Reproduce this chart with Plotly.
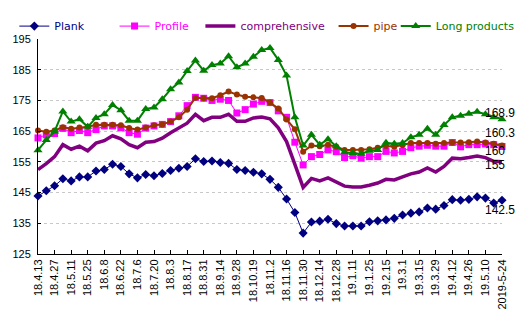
import plotly.graph_objects as go

dates = ["18.4.13", "18.4.20", "18.4.27", "18.5.4", "18.5.11", "18.5.18", "18.5.25", "18.6.1",
         "18.6.8", "18.6.15", "18.6.22", "18.6.29", "18.7.6", "18.7.13", "18.7.20", "18.7.27",
         "18.8.3", "18.8.10", "18.8.17", "18.8.24", "18.8.31", "18.9.7", "18.9.14", "18.9.21",
         "18.9.28", "18.10.12", "18.10.19", "18.10.26", "18.11.2", "18.11.9", "18.11.16", "18.11.23",
         "18.11.30", "18.12.7", "18.12.14", "18.12.21", "18.12.28", "19.1.4", "19.1.11", "19.1.18",
         "19.1.25", "19.2.1", "19.2.15", "19.2.22", "19.3.1", "19.3.8", "19.3.15", "19.3.22",
         "19.3.29", "19.4.5", "19.4.12", "19.4.19", "19.4.26", "19.5.3", "19.5.10", "19.5.17",
         "2019-5-24"]

plank = [143.9, 145.6, 147.2, 149.5, 148.8, 150.1, 150.1, 152.0, 152.5, 154.2, 153.5, 151.1,
         149.8, 150.9, 150.5, 151.2, 152.2, 152.9, 153.5, 156.0, 155.1, 155.3, 154.8, 154.5,
         152.5, 152.2, 151.6, 151.1, 149.3, 146.7, 142.9, 138.5, 131.8, 135.4, 135.7, 136.3,
         134.9, 134.1, 134.1, 134.1, 135.5, 135.8, 136.1, 136.6, 137.7, 138.3, 138.7, 140.0,
         139.6, 140.8, 142.7, 142.5, 142.8, 143.6, 143.2, 141.6, 142.5]

profile = [162.8, 163.8, 164.2, 165.9, 164.5, 165.2, 164.5, 165.5, 166.7, 166.7, 166.1, 164.5,
           164.0, 166.0, 166.7, 167.2, 168.1, 170.0, 173.3, 176.0, 175.7, 175.0, 175.4, 175.0,
           170.9, 172.0, 173.8, 174.7, 174.3, 171.6, 169.5, 161.4, 154.0, 156.7, 157.4, 158.9,
           158.3, 156.4, 157.0, 156.2, 156.7, 156.7, 158.4, 157.9, 158.4, 159.6, 160.1, 160.4,
           160.1, 160.1, 161.3, 159.9, 160.6, 160.6, 160.8, 160.6, 160.0]

comprehensive = [152.5, 154.4, 156.7, 160.6, 159.1, 160.1, 158.6, 161.1, 161.9, 163.5, 162.5, 160.6,
                 159.6, 161.4, 161.6, 162.7, 164.5, 166.1, 167.6, 170.5, 168.4, 169.5, 169.5, 170.5,
                 168.2, 168.2, 169.3, 169.6, 169.0, 166.1, 161.6, 154.2, 146.7, 149.6, 148.8, 149.8,
                 148.5, 147.1, 146.8, 146.8, 147.4, 148.1, 149.3, 149.1, 150.1, 151.1, 151.7, 153.0,
                 151.7, 153.5, 156.2, 156.0, 156.4, 156.9, 156.4, 155.2, 155.0]

pipe = [165.2, 164.8, 165.2, 166.3, 165.8, 166.2, 166.4, 167.1, 167.1, 167.1, 166.9, 166.0,
        165.5, 166.2, 166.9, 167.2, 168.1, 169.5, 172.0, 175.9, 175.7, 175.7, 176.7, 177.9,
        176.9, 176.2, 176.0, 175.8, 174.3, 172.4, 168.8, 165.6, 158.3, 160.3, 160.1, 160.6,
        159.9, 158.9, 158.9, 158.9, 159.1, 159.6, 160.2, 159.9, 160.4, 161.1, 161.1, 161.1,
        160.9, 161.1, 161.3, 161.3, 161.4, 161.6, 161.3, 160.9, 160.3]

long_products = [158.8, 162.1, 164.9, 171.4, 168.1, 168.9, 166.4, 169.3, 170.5, 173.5, 171.8, 168.4,
                 168.4, 172.2, 172.7, 175.4, 178.6, 180.8, 184.6, 188.0, 184.7, 186.5, 187.0, 189.4,
                 185.8, 187.0, 189.2, 191.4, 192.1, 188.2, 183.1, 169.5, 160.3, 163.8, 160.6, 162.4,
                 160.1, 158.1, 157.9, 157.6, 158.6, 158.9, 161.2, 160.9, 161.1, 163.0, 163.8, 165.8,
                 163.8, 167.0, 169.5, 170.0, 170.7, 171.3, 170.5, 169.5, 168.9]

series = [
    ("Plank", plank, "#000080", 1, "diamond", 7, "legend"),
    ("Profile", profile, "#FF00FF", 1, "square", 7, "legend2"),
    ("comprehensive", comprehensive, "#800080", 3.5, None, 0, "legend3"),
    ("pipe", pipe, "#993300", 2, "circle", 6, "legend4"),
    ("Long products", long_products, "#008000", 2, "triangle-up", 8, "legend5"),
]

fig = go.Figure()
for name, vals, color, lw, sym, ms, lg in series:
    kw = dict(x=dates, y=vals, name=name, legend=lg, cliponaxis=False,
              line=dict(color=color, width=lw))
    if sym:
        kw.update(mode="lines+markers", marker=dict(symbol=sym, size=ms, color=color))
    else:
        kw.update(mode="lines")
    fig.add_trace(go.Scatter(**kw))

# end-of-series labels
end_labels = [(long_products[-1], 6), (pipe[-1], 13), (profile[-1], -4), (comprehensive[-1], -3), (plank[-1], -10)]
for v, ys in end_labels:
    fig.add_annotation(x=dates[-1], y=v, text=f"{v:g}", showarrow=False, xanchor="left",
                       xshift=-19, yshift=ys, font=dict(family="Liberation Sans, Arial", size=12, color="black"))

legend_x = [-0.051, 0.165, 0.35, 0.637, 0.771]
legends = {}
for (name, vals, color, lw, sym, ms, lg), lx in zip(series, legend_x):
    legends[lg] = dict(x=lx, y=1.06, xanchor="left", yanchor="middle", orientation="h",
                       bgcolor="rgba(0,0,0,0)", borderwidth=0,
                       font=dict(family="DejaVu Sans, Verdana", size=11, color=color))

fig.update_layout(
    width=532, height=322,
    margin=dict(l=30, r=14, t=26, b=63),
    paper_bgcolor="white", plot_bgcolor="white",
    showlegend=True,
    **legends,
    xaxis=dict(type="category", range=[0, len(dates) - 1],
               tickmode="array", tickvals=dates[::2], ticktext=dates[::2],
               tickangle=-90, ticks="inside", ticklen=4, tickcolor="black",
               showline=True, linecolor="black", linewidth=1, showgrid=False,
               tickfont=dict(family="Liberation Sans, Arial", size=11, color="black")),
    yaxis=dict(range=[125, 195], dtick=10, tick0=125, ticks="inside", ticklen=3, tickcolor="black",
               showline=True, linecolor="black", linewidth=1,
               showgrid=True, gridcolor="#c8c8c8", griddash="3px,3px", gridwidth=1,
               zeroline=False, ticklabelstandoff=4,
               tickfont=dict(family="Liberation Sans, Arial", size=11, color="black")),
)

fig.write_html("out.html", config={"displayModeBar": False})
